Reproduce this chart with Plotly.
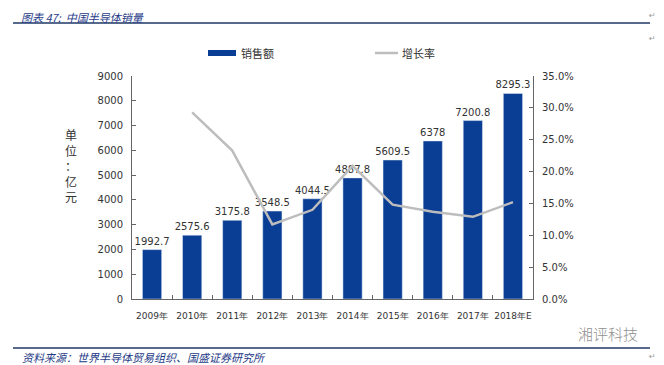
import plotly.graph_objects as go

years = ["2009年", "2010年", "2011年", "2012年", "2013年", "2014年", "2015年", "2016年", "2017年", "2018年E"]
sales = [1992.7, 2575.6, 3175.8, 3548.5, 4044.5, 4887.8, 5609.5, 6378, 7200.8, 8295.3]
sales_labels = ["1992.7", "2575.6", "3175.8", "3548.5", "4044.5", "4887.8", "5609.5", "6378", "7200.8", "8295.3"]
growth_years = years[1:]
growth = [0.293, 0.233, 0.117, 0.140, 0.209, 0.148, 0.137, 0.129, 0.152]

BAR = "#0a3d94"
LINE = "#bdbdbd"
TXT = "#333333"
BLUE = "#1f3b88"
FONT = "DejaVu Sans"
CJK = "Noto Sans CJK SC"

# page body has an 8px margin; plot area target: x 132..533, y 76..299
fig = go.Figure()
fig.add_trace(go.Bar(
    x=years, y=sales, name="销售额", marker_color=BAR,
    text=sales_labels, textposition="outside", cliponaxis=False, constraintext="none",
    textfont=dict(family=FONT, size=10, color=TXT), showlegend=False,
))
fig.add_trace(go.Scatter(
    x=growth_years, y=growth, name="增长率", mode="lines", yaxis="y2",
    line=dict(color=LINE, width=2.5), showlegend=False,
))

fig.update_layout(
    width=656, height=357,
    margin=dict(l=124, r=131, t=68, b=66),
    paper_bgcolor="white", plot_bgcolor="white",
    bargap=0.52,
    font=dict(family=FONT, size=10, color=TXT),
    xaxis=dict(
        type="category", showline=True, linecolor="#666", linewidth=1,
        ticks="inside", ticklen=4, tickcolor="#666", tickson="boundaries",
        tickfont=dict(family=FONT, size=9, color=TXT), ticklabelstandoff=8,
        tickangle=0, showgrid=False, automargin=False,
    ),
    yaxis=dict(
        range=[0, 9000], dtick=1000, showline=True, linecolor="#666", linewidth=1,
        ticks="inside", ticklen=4, tickcolor="#666", showgrid=False, zeroline=False,
        tickfont=dict(family=FONT, size=10, color=TXT), ticklabelstandoff=6,
        automargin=False,
    ),
    yaxis2=dict(
        range=[0, 0.35], dtick=0.05, tickformat=".1%", overlaying="y", side="right",
        showline=True, linecolor="#666", linewidth=1,
        ticks="inside", ticklen=4, tickcolor="#666", showgrid=False, zeroline=False,
        tickfont=dict(family=FONT, size=10, color=TXT), ticklabelstandoff=6,
        automargin=False,
    ),
    shapes=[
        dict(type="line", xref="paper", yref="paper", x0=-119/401, x1=518/401,
             y0=1 + 53/223, y1=1 + 53/223, line=dict(color="#1f3864", width=1.5)),
        dict(type="line", xref="paper", yref="paper", x0=-119/401, x1=518/401,
             y0=-49/223, y1=-49/223, line=dict(color="#1f3864", width=1.5)),
        # legend swatches
        dict(type="rect", xref="paper", yref="paper", x0=76/401, x1=104/401,
             y0=1 + 20/223, y1=1 + 26/223, fillcolor=BAR, line=dict(width=0)),
        dict(type="line", xref="paper", yref="paper", x0=243/401, x1=266/401,
             y0=1 + 23/223, y1=1 + 23/223, line=dict(color=LINE, width=2.5)),
    ],
    annotations=[
        dict(text="<i>图表 47:  中国半导体销量</i>", xref="paper", yref="paper",
             x=-112/401, y=1 + 68/223, xanchor="left", yanchor="top", showarrow=False,
             borderpad=0, font=dict(family=CJK, size=11, color=BLUE)),
        dict(text="<i>资料来源：世界半导体贸易组织、国盛证券研究所</i>", xref="paper", yref="paper",
             x=-112/401, y=-58/223, xanchor="left", yanchor="middle", showarrow=False,
             font=dict(family=CJK, size=11, color=BLUE)),
        dict(text="销售额", xref="paper", yref="paper", x=107/401, y=1 + 23/223,
             xanchor="left", yanchor="middle", showarrow=False,
             font=dict(family=CJK, size=11, color=TXT)),
        dict(text="增长率", xref="paper", yref="paper", x=268/401, y=1 + 23/223,
             xanchor="left", yanchor="middle", showarrow=False,
             font=dict(family=CJK, size=11, color=TXT)),
        dict(text="单<br>位<br>：<br>亿<br>元", xref="paper", yref="paper",
             x=-61/401, y=(299 - 165)/223, xanchor="center", yanchor="middle",
             showarrow=False, font=dict(family=CJK, size=12, color=TXT)),
        dict(text="湘评科技", xref="paper", yref="paper", x=(640 - 132)/401,
             y=(299 - 333)/223, xanchor="right", yanchor="middle", showarrow=False,
             font=dict(family=CJK, size=15, color="#8f8f8f", weight=300)),
        dict(text="↵", xref="paper", yref="paper", x=(652 - 132)/401, y=(299 - 15)/223,
             xanchor="center", yanchor="middle", showarrow=False,
             font=dict(family=FONT, size=8, color="#999")),
        dict(text="↵", xref="paper", yref="paper", x=(652 - 132)/401, y=(299 - 39)/223,
             xanchor="center", yanchor="middle", showarrow=False,
             font=dict(family=FONT, size=8, color="#999")),
        dict(text="↵", xref="paper", yref="paper", x=(652 - 132)/401, y=(299 - 356)/223,
             xanchor="center", yanchor="middle", showarrow=False,
             font=dict(family=FONT, size=8, color="#999")),
    ],
)

fig.write_html("out.html")
